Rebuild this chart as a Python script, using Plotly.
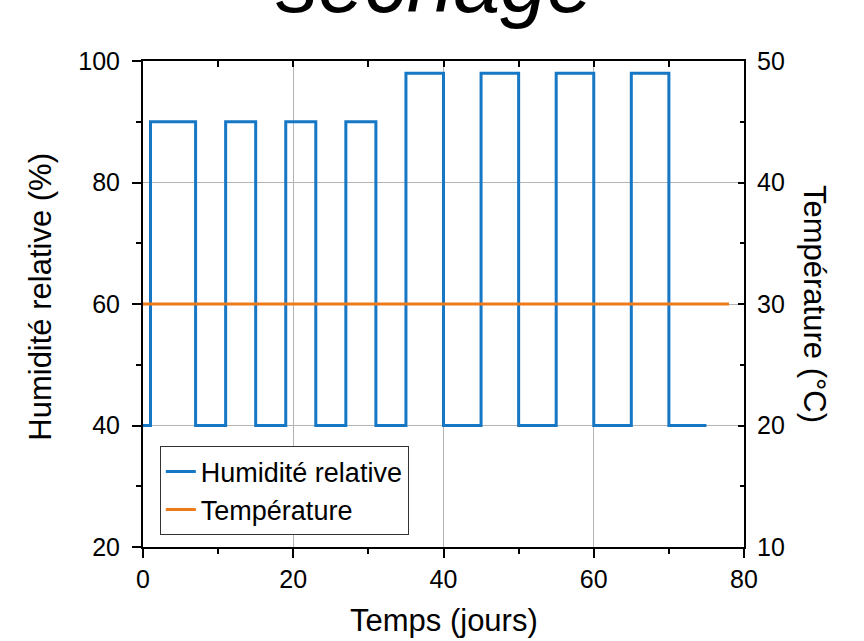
import plotly.graph_objects as go

# Data
temps_jours = [0, 1, 7, 11, 15, 19, 23, 27, 31, 35, 40, 45, 50, 55, 60, 65, 70, 75]
humidite = [40, 90, 40, 90, 40, 90, 40, 90, 40, 98, 40, 98, 40, 98, 40, 98, 40, 40]
temps_temp = [0, 78]
temperature = [30, 30]

FONT = "Liberation Sans, Arial, sans-serif"
BLUE = "#1677c4"
ORANGE = "#ef7a1a"

fig = go.Figure()
fig.add_trace(go.Scatter(x=temps_jours, y=humidite, mode="lines", line_shape="hv",
                         name="Humidité relative", line=dict(color=BLUE, width=3)))
fig.add_trace(go.Scatter(x=temps_temp, y=temperature, mode="lines", yaxis="y2",
                         name="Température", line=dict(color=ORANGE, width=3)))

fig.update_layout(
    width=864, height=641,
    margin=dict(l=143, r=120, t=61, b=94),
    paper_bgcolor="white", plot_bgcolor="white",
    font=dict(family=FONT, color="black", size=25),
    showlegend=True,
    legend=dict(x=0.028, y=0.207, xanchor="left", yanchor="top",
                bgcolor="white", bordercolor="#333333", borderwidth=1,
                font=dict(size=27, family=FONT), tracegroupgap=0, entrywidth=240),
    xaxis=dict(range=[0, 80], dtick=20, tick0=0, showline=True, linecolor="black", linewidth=2,
               ticks="outside", ticklen=9, tickwidth=2, tickcolor="black",
               showgrid=True, gridcolor="#b4b4b4", gridwidth=1, zeroline=False,
               minor=dict(ticks="outside", ticklen=5, tickwidth=2, dtick=10, tickcolor="black", showgrid=False),
               tickfont=dict(size=25), ticklabelstandoff=0),
    xaxis2=dict(range=[0, 80], overlaying="x", side="top", anchor="y", dtick=20, showline=True,
                linecolor="black", linewidth=2, ticks="inside", ticklen=6, tickwidth=2,
                tickcolor="black", showticklabels=False, showgrid=False, zeroline=False,
                minor=dict(ticks="inside", ticklen=6, tickwidth=2, dtick=10, tickcolor="black")),
    yaxis=dict(range=[20, 100], dtick=20, showline=True, linecolor="black", linewidth=2,
               ticks="outside", ticklen=9, tickwidth=2, tickcolor="black",
               showgrid=True, gridcolor="#b4b4b4", gridwidth=1, zeroline=False,
               minor=dict(ticks="outside", ticklen=5, tickwidth=2, dtick=10, tickcolor="black", showgrid=False),
               tickfont=dict(size=25), ticklabelstandoff=7),
    yaxis2=dict(range=[10, 50], dtick=10, overlaying="y", side="right", showline=True,
                linecolor="black", linewidth=2, ticks="inside", ticklen=6, tickwidth=2,
                tickcolor="black", showgrid=False, zeroline=False,
                minor=dict(ticks="inside", ticklen=4, tickwidth=2, dtick=5, tickcolor="black"),
                tickfont=dict(size=25), ticklabelstandoff=6),
)

fig.add_trace(go.Scatter(x=[None], y=[None], xaxis="x2", showlegend=False, hoverinfo="skip"))

annots = [
    dict(text="<i>séchage</i>", x=0.486, y=1, xref="paper", yref="paper", xanchor="center",
         yanchor="middle", yshift=78, showarrow=False, font=dict(size=84, family=FONT)),
    dict(text="Temps (jours)", x=0.5, y=0, xref="paper", yref="paper", xanchor="center",
         yanchor="middle", yshift=-73, showarrow=False, font=dict(size=31, family=FONT)),
    dict(text="Humidité relative (%)", x=0, y=0.515, xref="paper", yref="paper", xanchor="center",
         yanchor="middle", xshift=-102, textangle=-90, showarrow=False, font=dict(size=31, family=FONT)),
    dict(text="Température (°C)", x=1, y=0.5, xref="paper", yref="paper", xanchor="center",
         yanchor="middle", xshift=71, textangle=90, showarrow=False, font=dict(size=31, family=FONT)),
]
fig.update_layout(annotations=annots)

fig.write_html("out.html")
